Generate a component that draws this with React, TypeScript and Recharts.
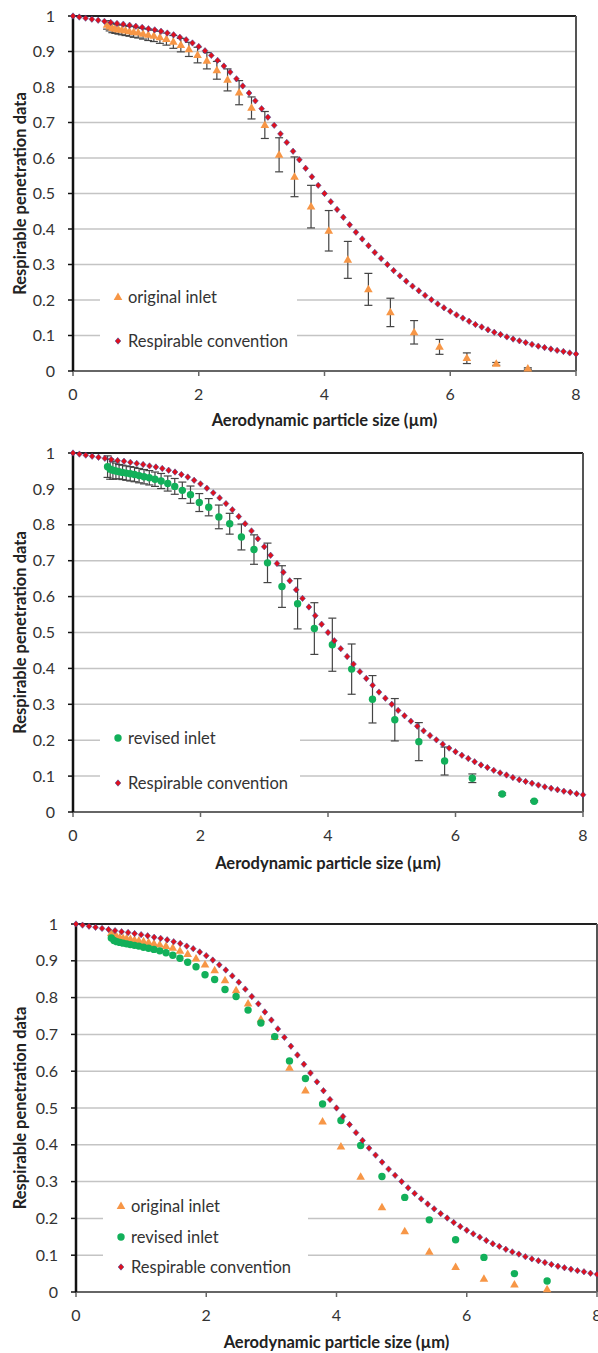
import { CartesianGrid, ErrorBar, Legend, ReferenceLine, Scatter, ScatterChart, XAxis, YAxis } from 'recharts';

// APS channel midpoints (µm)
const apsSizes = [
  0.542, 0.583, 0.626, 0.673, 0.723, 0.777, 0.835, 0.898, 0.965, 1.037,
  1.114, 1.197, 1.286, 1.382, 1.486, 1.596, 1.715, 1.843, 1.981, 2.129,
  2.288, 2.458, 2.642, 2.839, 3.051, 3.278, 3.523, 3.786, 4.068, 4.371,
  4.698, 5.048, 5.425, 5.829, 6.264, 6.732, 7.234,
];

const originalInlet = [
  0.975, 0.97, 0.966, 0.964, 0.962, 0.961, 0.959, 0.957, 0.955, 0.953,
  0.95, 0.947, 0.944, 0.94, 0.935, 0.927, 0.918, 0.906, 0.89, 0.874,
  0.847, 0.82, 0.784, 0.741, 0.693, 0.609, 0.547, 0.463, 0.395, 0.313,
  0.23, 0.165, 0.109, 0.068, 0.036, 0.02, 0.007,
];

const originalErr = [
  0.012, 0.012, 0.013, 0.013, 0.013, 0.014, 0.014, 0.014, 0.015, 0.015,
  0.015, 0.016, 0.016, 0.017, 0.017, 0.018, 0.019, 0.02, 0.022, 0.023,
  0.025, 0.031, 0.034, 0.031, 0.038, 0.048, 0.056, 0.06, 0.057, 0.052,
  0.045, 0.04, 0.033, 0.021, 0.015, 0.004, 0.002,
];

const revisedInlet = [
  0.962, 0.955, 0.952, 0.95, 0.948, 0.946, 0.944, 0.942, 0.94, 0.937,
  0.934, 0.931, 0.927, 0.922, 0.915, 0.907, 0.896, 0.884, 0.862, 0.849,
  0.822, 0.803, 0.766, 0.731, 0.694, 0.628, 0.58, 0.511, 0.466, 0.398,
  0.314, 0.257, 0.196, 0.142, 0.094, 0.05, 0.03,
];

const revisedErr = [
  0.03, 0.028, 0.025, 0.022, 0.02, 0.02, 0.02, 0.02, 0.02, 0.02,
  0.02, 0.02, 0.02, 0.021, 0.021, 0.022, 0.023, 0.024, 0.025, 0.024,
  0.033, 0.029, 0.036, 0.041, 0.055, 0.058, 0.07, 0.072, 0.074, 0.07,
  0.066, 0.059, 0.053, 0.039, 0.012, 0.003, 0.002,
];

const conventionSizes = [
  0, 0.1, 0.2, 0.3, 0.4, 0.5, 0.6, 0.7, 0.8, 0.9,
  1, 1.1, 1.2, 1.3, 1.4, 1.5, 1.6, 1.7, 1.8, 1.9,
  2, 2.1, 2.2, 2.3, 2.4, 2.5, 2.6, 2.7, 2.8, 2.9,
  3, 3.1, 3.2, 3.3, 3.4, 3.5, 3.6, 3.7, 3.8, 3.9,
  4, 4.1, 4.2, 4.3, 4.4, 4.5, 4.6, 4.7, 4.8, 4.9,
  5, 5.1, 5.2, 5.3, 5.4, 5.5, 5.6, 5.7, 5.8, 5.9,
  6, 6.1, 6.2, 6.3, 6.4, 6.5, 6.6, 6.7, 6.8, 6.9,
  7, 7.1, 7.2, 7.3, 7.4, 7.5, 7.6, 7.7, 7.8, 7.9,
  8,
];

const conventionValues = [
  1.0, 0.997, 0.994, 0.991, 0.988, 0.985, 0.982, 0.979, 0.977, 0.974,
  0.971, 0.968, 0.964, 0.961, 0.957, 0.952, 0.947, 0.94, 0.933, 0.924,
  0.914, 0.902, 0.889, 0.875, 0.859, 0.842, 0.823, 0.803, 0.783, 0.761,
  0.739, 0.715, 0.692, 0.668, 0.644, 0.619, 0.595, 0.571, 0.547, 0.523,
  0.5, 0.477, 0.455, 0.433, 0.412, 0.391, 0.372, 0.353, 0.334, 0.317,
  0.3, 0.283, 0.268, 0.253, 0.239, 0.226, 0.213, 0.201, 0.189, 0.178,
  0.168, 0.158, 0.149, 0.14, 0.131, 0.124, 0.116, 0.109, 0.103, 0.096,
  0.09, 0.085, 0.08, 0.075, 0.07, 0.066, 0.062, 0.058, 0.055, 0.051,
  0.048,
];

const yTicks = [0, 0.1, 0.2, 0.3, 0.4, 0.5, 0.6, 0.7, 0.8, 0.9, 1];
const xTicks = [0, 2, 4, 6, 8];

const FONT = 'Lato, "Open Sans", sans-serif';
const ORANGE = '#f79646';
const GREEN = '#12b05a';
const RED = '#e0101e';
const NAVY = '#3a4a9c';

const originalData = apsSizes.map((x, i) => ({ x, y: originalInlet[i], err: originalErr[i] }));
const revisedData = apsSizes.map((x, i) => ({ x, y: revisedInlet[i], err: revisedErr[i] }));
const conventionData = conventionSizes.map((x, i) => ({ x, y: conventionValues[i] }));

type Marker = 'triangle' | 'circle' | 'diamond';

function markerPath(kind: Marker, cx: number, cy: number) {
  if (kind === 'triangle') {
    return <path d={`M${cx},${cy - 4.6}L${cx + 4.3},${cy + 2.9}L${cx - 4.3},${cy + 2.9}Z`} fill={ORANGE} />;
  }
  if (kind === 'circle') {
    return <circle cx={cx} cy={cy} r={3.7} fill={GREEN} />;
  }
  return (
    <path
      d={`M${cx},${cy - 3.2}L${cx + 2.9},${cy}L${cx},${cy + 3.2}L${cx - 2.9},${cy}Z`}
      fill={RED}
      stroke={NAVY}
      strokeWidth={1}
      strokeOpacity={0.55}
    />
  );
}

const triangleShape = (p: any) => markerPath('triangle', p.cx, p.cy);
const circleShape = (p: any) => markerPath('circle', p.cx, p.cy);
const diamondShape = (p: any) => markerPath('diamond', p.cx, p.cy);

type Entry = { label: string; marker: Marker };

function LegendBox({ entries, rowHeight }: { entries: Entry[]; rowHeight: number }) {
  return (
    <div style={{ background: '#fff' }}>
      {entries.map((e) => (
        <div
          key={e.label}
          style={{ height: rowHeight, display: 'flex', alignItems: 'center', fontSize: 16.5, color: '#333', fontFamily: FONT }}
        >
          <svg width={24} height={12} style={{ flex: 'none' }}>
            {markerPath(e.marker, 18, 6)}
          </svg>
          <span style={{ marginLeft: 4, whiteSpace: 'nowrap' }}>{e.label}</span>
        </div>
      ))}
    </div>
  );
}

type PanelProps = {
  top: number;
  height: number;
  marginTop: number;
  marginRight: number;
  yWidth: number;
  xHeight: number;
  titleOffset: number;
  showOriginal: boolean;
  showRevised: boolean;
  errorBars: boolean;
  legend: { left: number; top: number; width: number; rowHeight: number };
};

function PenetrationChart(props: PanelProps) {
  const entries: Entry[] = [];
  if (props.showOriginal) entries.push({ label: 'original inlet', marker: 'triangle' });
  if (props.showRevised) entries.push({ label: 'revised inlet', marker: 'circle' });
  entries.push({ label: 'Respirable convention', marker: 'diamond' });

  return (
    <div style={{ position: 'absolute', left: 0, top: props.top }}>
      <ScatterChart
        width={598}
        height={props.height}
        margin={{ top: props.marginTop, right: props.marginRight, bottom: 0, left: 0 }}
        style={{ fontFamily: FONT }}
      >
        <CartesianGrid horizontal vertical={false} stroke="#c4c4c4" strokeWidth={1.5} />
        <XAxis
          type="number"
          dataKey="x"
          domain={[0, 8]}
          ticks={xTicks}
          interval={0}
          height={props.xHeight}
          tickSize={5}
          tickMargin={13}
          axisLine={{ stroke: '#666', strokeWidth: 2 }}
          tickLine={{ stroke: '#666', strokeWidth: 1.5 }}
          tick={{ fill: '#333', fontSize: 16 }}
          label={{
            value: 'Aerodynamic particle size (µm)',
            position: 'insideBottom',
            offset: props.titleOffset,
            style: { fill: '#222', fontSize: 16.5, fontWeight: 700 },
          }}
        />
        <YAxis
          type="number"
          dataKey="y"
          domain={[0, 1]}
          ticks={yTicks}
          interval={0}
          width={props.yWidth}
          tickSize={5}
          tickMargin={13}
          axisLine={{ stroke: '#111', strokeWidth: 2.5 }}
          tickLine={{ stroke: '#111', strokeWidth: 1.5 }}
          tick={{ fill: '#333', fontSize: 16 }}
          label={{
            value: 'Respirable penetration data',
            angle: -90,
            position: 'insideLeft',
            offset: 20,
            style: { fill: '#222', fontSize: 16.5, fontWeight: 700, textAnchor: 'middle' },
          }}
        />
        <ReferenceLine y={1} stroke="#222" strokeWidth={2} />
        <ReferenceLine x={8} stroke="#555" strokeWidth={2} />
        {props.showOriginal && (
          <Scatter name="original inlet" data={originalData} shape={triangleShape} isAnimationActive={false}>
            {props.errorBars && <ErrorBar dataKey="err" direction="y" width={4} stroke="#444" strokeWidth={1.2} />}
          </Scatter>
        )}
        {props.showRevised && (
          <Scatter name="revised inlet" data={revisedData} shape={circleShape} isAnimationActive={false}>
            {props.errorBars && <ErrorBar dataKey="err" direction="y" width={4} stroke="#444" strokeWidth={1.2} />}
          </Scatter>
        )}
        <Scatter name="Respirable convention" data={conventionData} shape={diamondShape} isAnimationActive={false} />
        <Legend
          layout="vertical"
          align="center"
          verticalAlign="middle"
          wrapperStyle={{ left: props.legend.left, top: props.legend.top, width: props.legend.width }}
          content={() => <LegendBox entries={entries} rowHeight={props.legend.rowHeight} />}
        />
      </ScatterChart>
    </div>
  );
}

export default function App() {
  return (
    <div style={{ position: 'absolute', left: 0, top: 0, width: 598, height: 1353, background: '#fff', fontFamily: FONT }}>
      <PenetrationChart
        top={0}
        height={440}
        marginTop={16}
        marginRight={22}
        yWidth={73}
        xHeight={69}
        titleOffset={14}
        showOriginal
        showRevised={false}
        errorBars
        legend={{ left: 100, top: 275, width: 197, rowHeight: 44 }}
      />
      <PenetrationChart
        top={440}
        height={460}
        marginTop={13}
        marginRight={15}
        yWidth={73}
        xHeight={88}
        titleOffset={31}
        showOriginal={false}
        showRevised
        errorBars
        legend={{ left: 100, top: 275, width: 200, rowHeight: 45 }}
      />
      <PenetrationChart
        top={900}
        height={453}
        marginTop={24}
        marginRight={1}
        yWidth={76}
        xHeight={61}
        titleOffset={5}
        showOriginal
        showRevised
        errorBars={false}
        legend={{ left: 103, top: 291, width: 205, rowHeight: 30.5 }}
      />
    </div>
  );
}
